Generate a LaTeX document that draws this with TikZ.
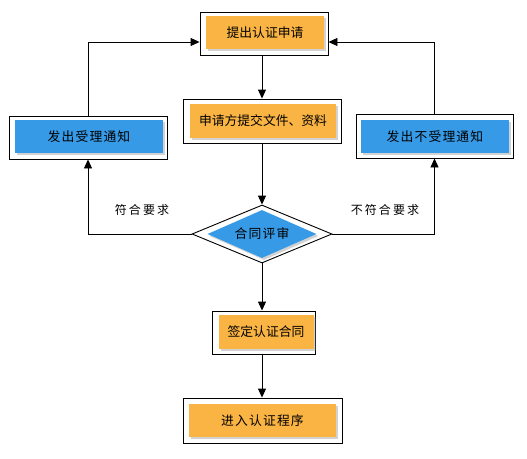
\documentclass[tikz,border=0pt]{standalone}
\usepackage{fontspec}
\newfontfamily\cjk{Noto Sans CJK SC}
\newfontfamily\cjkwide[LetterSpace=9]{Noto Sans CJK SC}
\newfontfamily\cjknote[LetterSpace=17]{Noto Sans CJK SC}
\usetikzlibrary{arrows.meta,shapes.geometric,shadows}
\definecolor{boxorange}{HTML}{F9B443}
\definecolor{boxblue}{HTML}{379AE6}
\tikzset{
  outerbox/.style={draw=black, line width=0.9pt, fill=white, inner sep=0pt},
  orangebox/.style={fill=boxorange, inner sep=0pt, font=\cjk\fontsize{12.8}{14}\selectfont,
    drop shadow={shadow xshift=2pt, shadow yshift=-2pt, opacity=0.35}},
  bluebox/.style={fill=boxblue, inner sep=0pt, font=\cjkwide\fontsize{12.8}{14}\selectfont,
    drop shadow={shadow xshift=2pt, shadow yshift=-2pt, opacity=0.35}},
  flow/.style={line width=0.9pt, -{Triangle[length=9pt,width=8pt]}},
  note/.style={font=\cjknote\fontsize{12}{14}\selectfont}
}
\begin{document}
\begin{tikzpicture}[x=1pt, y=-1pt]
        \useasboundingbox (0,0) rectangle (527,458);
        % main column
        \node[outerbox, minimum width=128, minimum height=43] at (264,33.5) (applyframe) {};
        \node[orangebox, minimum width=118, minimum height=33] at (265,32.5) (apply) {提出认证申请};
        \node[outerbox, minimum width=158, minimum height=44] at (262,121) (docsframe) {};
        \node[orangebox, minimum width=146, minimum height=34] at (263,121) (docs) {申请方提交文件、资料};
        \node[outerbox, diamond, aspect=2.4, minimum width=140, minimum height=58] at (262,234) (reviewframe) {};
        \node[bluebox, diamond, aspect=2.27, minimum width=109, minimum height=48] at (262,234) (review) {合同评审};
        \node[outerbox, minimum width=103, minimum height=43] at (264,332.5) (signframe) {};
        \node[orangebox, minimum width=95, minimum height=34] at (266,332) (sign) {签定认证合同};
        \node[outerbox, minimum width=159, minimum height=45] at (262.5,420.5) (enterframe) {};
        \node[orangebox, minimum width=147, minimum height=33] at (262.5,420.5) (enter) {\cjkwide 进入认证程序};

        % side boxes
        \node[outerbox, minimum width=158, minimum height=43] at (88,137.5) (acceptframe) {};
        \node[bluebox, minimum width=148, minimum height=33] at (89,136.5) (accept) {发出受理通知};
        \node[outerbox, minimum width=157, minimum height=44] at (434.5,136) (rejectframe) {};
        \node[bluebox, minimum width=148, minimum height=33] at (435,136.5) (reject) {发出不受理通知};

        \draw[flow] (applyframe.south -| docsframe) -- (docsframe.north);
        \draw[flow] (docsframe.south) -- (reviewframe.north);
        \draw[flow] (reviewframe.south) -- (reviewframe.south |- signframe.north);
        \draw[flow] (reviewframe.south |- signframe.south) -- (reviewframe.south |- enterframe.north);

        \draw[flow] (reviewframe.west) -| (acceptframe.south);
        \draw[flow] (reviewframe.east) -| (rejectframe.south);
        \draw[flow] (acceptframe.north) |- ([yshift=-8.5pt]applyframe.west);
        \draw[flow] (rejectframe.north) |- ([yshift=-8.5pt]applyframe.east);

        \node[note] at (142,210) (ok) {符合要求};
        \node[note] at (385,210) (notok) {不符合要求};
\end{tikzpicture}
\end{document}
